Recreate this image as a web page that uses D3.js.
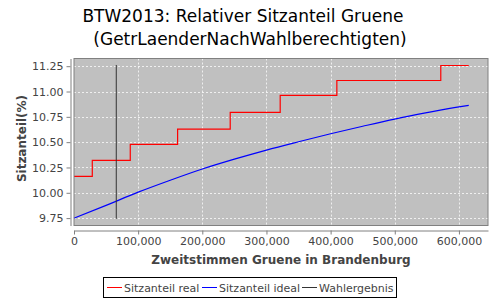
<!DOCTYPE html>
<html><head><meta charset="utf-8">
<script src="https://cdn.jsdelivr.net/npm/d3@7"></script>
<style>body{margin:0;background:#fff}svg{display:block}</style>
</head><body>
<svg id="c" width="500" height="300"></svg>
<script>
// Data
const realX = [0, 28500, 87700, 161500, 243500, 321400, 409700, 571700, 615300];
const realY = [10.163, 10.321, 10.479, 10.629, 10.794, 10.961, 11.109, 11.257, 11.257];
const idealX = [0, 50000, 100000, 150000, 200000, 250000, 300000, 350000, 400000, 450000, 500000, 550000, 600000, 615300];
const idealY = [9.750, 9.876, 10.006, 10.124, 10.235, 10.332, 10.422, 10.504, 10.583, 10.657, 10.728, 10.791, 10.849, 10.863];
const resultX = [65900, 65900];
const resultY = [9.743, 11.262];
const xTicks = [0, 100000, 200000, 300000, 400000, 500000, 600000];
const yTicks = [9.75, 10.00, 10.25, 10.50, 10.75, 11.00, 11.25];
const legendLabels = ["Sitzanteil real", "Sitzanteil ideal", "Wahlergebnis"];
const legendColors = ["#ff0000", "#0000ff", "#333333"];

const svg = d3.select("#c");
const L = 74, R = 488, T = 58.5, B = 225.5;
const x = d3.scaleLinear().domain([0, 645300]).range([L, R]);
const y = d3.scaleLinear().domain([9.677, 11.326]).range([B, T]);
const font = "'DejaVu Sans', Verdana, sans-serif";

// title
svg.append("text").attr("x", 243).attr("y", 21.5).attr("text-anchor", "middle")
  .attr("font-family", font).attr("font-size", 17).attr("fill", "#000")
  .text("BTW2013: Relativer Sitzanteil Gruene");
svg.append("text").attr("x", 250).attr("y", 44.5).attr("text-anchor", "middle")
  .attr("font-family", font).attr("font-size", 17).attr("fill", "#000")
  .text("(GetrLaenderNachWahlberechtigten)");

// plot bg
svg.append("rect").attr("x", L).attr("y", T).attr("width", R - L).attr("height", B - T)
  .attr("fill", "#c0c0c0");

// grid
const g = svg.append("g");
g.selectAll(".gx").data(xTicks.slice(1)).join("line")
  .attr("x1", d => Math.round(x(d)) + 0.5).attr("x2", d => Math.round(x(d)) + 0.5)
  .attr("y1", T).attr("y2", B)
  .attr("stroke", "#ffffff").attr("stroke-opacity", 0.75).attr("stroke-dasharray", "2,2");
g.selectAll(".gy").data(yTicks).join("line")
  .attr("y1", d => Math.round(y(d)) + 0.5).attr("y2", d => Math.round(y(d)) + 0.5)
  .attr("x1", L).attr("x2", R)
  .attr("stroke", "#ffffff").attr("stroke-opacity", 0.75).attr("stroke-dasharray", "2,2");

// lines
svg.append("path").datum(realX.map((v, i) => [v, realY[i]]))
  .attr("d", d3.line().x(d => x(d[0])).y(d => y(d[1])).curve(d3.curveStepAfter)).attr("fill", "none")
  .attr("stroke", "#ff0000").attr("stroke-width", 1.2);
svg.append("path").datum(idealX.map((v, i) => [v, idealY[i]]))
  .attr("d", d3.line().x(d => x(d[0])).y(d => y(d[1])).curve(d3.curveMonotoneX))
  .attr("fill", "none").attr("stroke", "#0000ff").attr("stroke-width", 1.2);
svg.append("path").datum(resultX.map((v, i) => [v, resultY[i]]))
  .attr("d", d3.line().x(d => x(d[0])).y(d => y(d[1])))
  .attr("fill", "none").attr("stroke", "#333333").attr("stroke-width", 1);

// border
svg.append("rect").attr("x", L).attr("y", T).attr("width", R - L).attr("height", B - T)
  .attr("fill", "none").attr("stroke", "#808080").attr("stroke-width", 1);

// axes
const fmt = d3.format(",");
const xAxis = svg.append("g").attr("transform", `translate(0,${B + 5})`)
  .call(d3.axisBottom(x).tickValues(xTicks).tickFormat(fmt).tickSizeInner(4).tickSizeOuter(0).tickPadding(3));
const yAxis = svg.append("g").attr("transform", `translate(${L - 3.5},0)`)
  .call(d3.axisLeft(y).tickValues(yTicks).tickFormat(d3.format(".2f")).tickSizeInner(4).tickSizeOuter(0).tickPadding(3));
[xAxis, yAxis].forEach(a => {
  a.select(".domain").attr("stroke", "#808080");
  a.selectAll(".tick line").attr("stroke", "#808080");
  a.selectAll("text").attr("font-family", font).attr("font-size", 11).attr("fill", "#444");
});

// axis labels
svg.append("text").attr("x", 281).attr("y", 264).attr("text-anchor", "middle")
  .attr("font-family", font).attr("font-size", 12).attr("font-weight", "bold").attr("fill", "#444")
  .text("Zweitstimmen Gruene in Brandenburg");
svg.append("text").attr("transform", "translate(26,138.5) rotate(-90)").attr("text-anchor", "middle")
  .attr("font-family", font).attr("font-size", 12).attr("font-weight", "bold").attr("fill", "#444")
  .text("Sitzanteil(%)");

// legend
svg.append("rect").attr("x", 103.5).attr("y", 277.5).attr("width", 293).attr("height", 20)
  .attr("fill", "#fff").attr("stroke", "#000");
const lx = [107, 202, 302];
legendLabels.forEach((t, i) => {
  svg.append("line").attr("x1", lx[i]).attr("x2", lx[i] + 15).attr("y1", 287.5).attr("y2", 287.5)
    .attr("stroke", legendColors[i]);
  svg.append("text").attr("x", lx[i] + 17).attr("y", 291.5)
    .attr("font-family", font).attr("font-size", 11).attr("fill", "#444").text(t);
});
</script>
</body></html>
